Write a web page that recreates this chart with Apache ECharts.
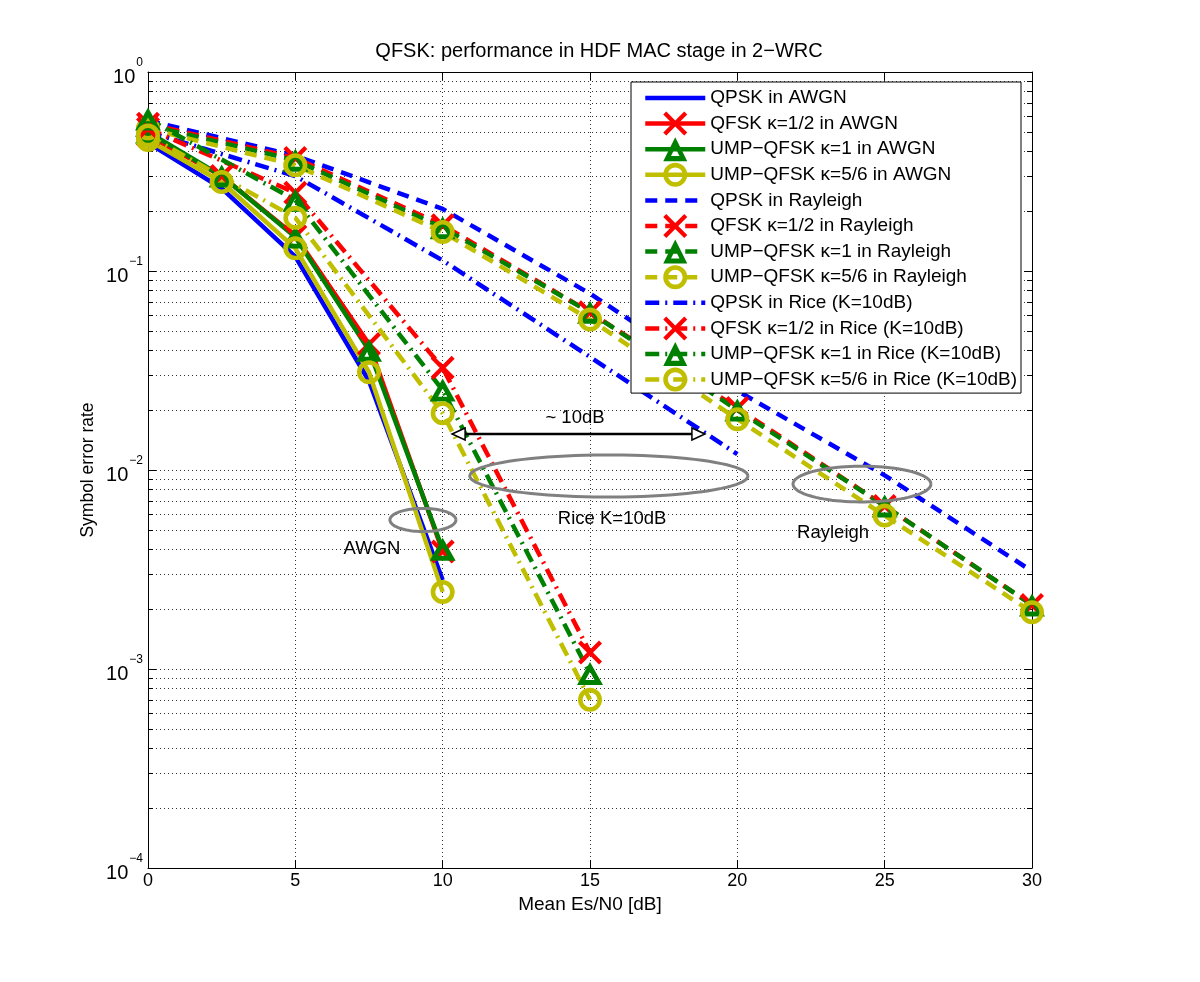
<!DOCTYPE html>
<html><head><meta charset="utf-8">
<script src="https://cdn.jsdelivr.net/npm/echarts@6/dist/echarts.min.js"></script>
<style>html,body{margin:0;padding:0;background:#fff}#c{width:1200px;height:982px}</style>
</head><body><div id="c"></div>
<script>
// ---- data ----
const snrAwgn = [0, 2.5, 5, 7.5, 10];
const qpskAwgn = [0.44, 0.26, 0.118, 0.028, 0.0028];
const qfskHalfAwgn = [0.48, 0.30, 0.15, 0.043, 0.0039];
const umpOneAwgn = [0.50, 0.30, 0.148, 0.040, 0.0040];
const umpFiveSixthAwgn = [0.455, 0.28, 0.13, 0.031, 0.00244];

const snrRayleigh = [0, 5, 10, 15, 20, 25, 30];
const qpskRayleigh = [0.57, 0.38, 0.205, 0.077, 0.025, 0.0094, 0.0031];
const qfskHalfRayleigh = [0.55, 0.37, 0.17, 0.062, 0.0205, 0.0066, 0.0021];
const umpOneRayleigh = [0.54, 0.36, 0.165, 0.062, 0.020, 0.0066, 0.0021];
const umpFiveSixthRayleigh = [0.52, 0.34, 0.157, 0.057, 0.018, 0.0059, 0.00193];

const snrRiceQpsk = [0, 5, 10, 15, 20];
const qpskRice = [0.5, 0.3, 0.113, 0.037, 0.012];
const snrRice = [0, 5, 10, 15];
const qfskHalfRice = [0.52, 0.247, 0.0326, 0.00121];
const umpOneRice = [0.58, 0.227, 0.0252, 0.00095];
const umpFiveSixthRice = [0.48, 0.185, 0.0193, 0.0007];

const seriesNames = [
  'QPSK in AWGN', 'QFSK \u03ba=1/2 in AWGN', 'UMP\u2212QFSK \u03ba=1 in AWGN', 'UMP\u2212QFSK \u03ba=5/6 in AWGN',
  'QPSK in Rayleigh', 'QFSK \u03ba=1/2 in Rayleigh', 'UMP\u2212QFSK \u03ba=1 in Rayleigh', 'UMP\u2212QFSK \u03ba=5/6 in Rayleigh',
  'QPSK in Rice (K=10dB)', 'QFSK \u03ba=1/2 in Rice (K=10dB)', 'UMP\u2212QFSK \u03ba=1 in Rice (K=10dB)', 'UMP\u2212QFSK \u03ba=5/6 in Rice (K=10dB)'
];

const yDecades = [-4, -3, -2, -1, 0];
const minorMantissas = [2, 3, 4, 5, 6, 7, 8, 9];

// annotations: [x center, y center, x radius (dB), y radius (decades)]
const ellipses = [[9.33, 0.00561, 1.12, 0.058], [15.64, 0.00933, 4.72, 0.106], [24.23, 0.0085, 2.34, 0.09]];
const annotationLabels = ['AWGN', 'Rice K=10dB', 'Rayleigh', '~ 10dB'];
const annotationPos = [[7.6, 0.0040], [15.75, 0.00567], [23.25, 0.00482], [14.49, 0.0183]];
const arrowSpan = [[10.32, 0.0152, 18.9]];

// ---- styling ----
const BLUE = '#0000ff', RED = '#ff0000', GREEN = '#008000', YEL = '#bfbf00';
const FONT = '"Liberation Sans", Arial, Helvetica, sans-serif';
const X_SYM = 'path://M2.5,0 L10,7.5 L17.5,0 L20,2.5 L12.5,10 L20,17.5 L17.5,20 L10,12.5 L2.5,20 L0,17.5 L7.5,10 L0,2.5 Z';
const TRI_SYM = 'path://M12,0 L24,21 L0,21 Z M12,9.06 L7.76,16.47 L16.24,16.47 Z';
const CIR_SYM = 'path://M12,0 A12,12 0 1,1 12,24 A12,12 0 1,1 12,0 Z M12,4.6 A7.4,7.4 0 1,0 12,19.4 A7.4,7.4 0 1,0 12,4.6 Z';
const SOLID = 'solid', DASH = [12, 8], DASHDOT = [14, 6, 2, 6];

function zip(xs, ys) { return xs.map((x, i) => [x, ys[i]]); }

const seriesDefs = [
  [snrAwgn, qpskAwgn, BLUE, 'none', SOLID],
  [snrAwgn, qfskHalfAwgn, RED, X_SYM, SOLID],
  [snrAwgn, umpOneAwgn, GREEN, TRI_SYM, SOLID],
  [snrAwgn, umpFiveSixthAwgn, YEL, CIR_SYM, SOLID],
  [snrRayleigh, qpskRayleigh, BLUE, 'none', DASH],
  [snrRayleigh, qfskHalfRayleigh, RED, X_SYM, DASH],
  [snrRayleigh, umpOneRayleigh, GREEN, TRI_SYM, DASH],
  [snrRayleigh, umpFiveSixthRayleigh, YEL, CIR_SYM, DASH],
  [snrRiceQpsk, qpskRice, BLUE, 'none', DASHDOT],
  [snrRice, qfskHalfRice, RED, X_SYM, DASHDOT],
  [snrRice, umpOneRice, GREEN, TRI_SYM, DASHDOT],
  [snrRice, umpFiveSixthRice, YEL, CIR_SYM, DASHDOT]
];

function symSize(sym) {
  if (sym === X_SYM) return [24, 24];
  if (sym === TRI_SYM) return [26, 23];
  return [24, 24];
}

const lineSeries = seriesDefs.map((d, i) => ({
  name: seriesNames[i],
  type: 'line',
  data: zip(d[0], d[1]),
  symbol: d[3],
  symbolSize: symSize(d[3]),
  showAllSymbol: true,
  color: d[2],
  itemStyle: { color: d[2] },
  lineStyle: { color: d[2], width: 4.5, type: d[4] },
  emphasis: { disabled: true },
  z: 3
}));

const legendData = seriesDefs.map((d, i) => d[3] === 'none'
  ? { name: seriesNames[i], itemStyle: { color: 'rgba(0,0,0,0)', borderColor: 'rgba(0,0,0,0)', borderWidth: 0 } }
  : { name: seriesNames[i] });

const minorGrid = [];
yDecades.slice(0, -1).forEach(e => minorMantissas.forEach(m => minorGrid.push([0, m * Math.pow(10, e)])));

function renderMinor(params, api) {
  const v = api.value(1);
  const a = api.coord([0, v]);
  const b = api.coord([30, v]);
  const y = Math.round(a[1]) + 0.5;
  return { type: 'group', children: [
    { type: 'line', shape: { x1: a[0], y1: y, x2: b[0], y2: y }, style: { stroke: '#333', lineWidth: 1, lineDash: [1, 3] } },
    { type: 'line', shape: { x1: a[0], y1: y, x2: a[0] + 5, y2: y }, style: { stroke: '#000', lineWidth: 1 } },
    { type: 'line', shape: { x1: b[0] - 5, y1: y, x2: b[0], y2: y }, style: { stroke: '#000', lineWidth: 1 } }
  ]};
}

function renderEllipse(params, api) {
  const cx = api.value(0), cy = api.value(1), rx = api.value(2), ry = api.value(3);
  const pts = [];
  for (let i = 0; i <= 90; i++) {
    const t = i / 90 * 2 * Math.PI;
    pts.push(api.coord([cx + rx * Math.cos(t), cy * Math.pow(10, ry * Math.sin(t))]));
  }
  return { type: 'polyline', shape: { points: pts }, style: { stroke: '#808080', lineWidth: 3, fill: null } };
}

function renderText(params, api) {
  const p = api.coord([api.value(0), api.value(1)]);
  return { type: 'text', x: p[0], y: p[1], style: { text: annotationLabels[params.dataIndex], fill: '#000', font: '18.5px ' + FONT, align: 'center', verticalAlign: 'middle' } };
}

function renderArrow(params, api) {
  const yv = api.value(1);
  const a = api.coord([api.value(0), yv]), b = api.coord([api.value(2), yv]);
  const L = 13, H = 6, y = Math.round(a[1]);
  return { type: 'group', children: [
    { type: 'line', shape: { x1: a[0] + L, y1: y, x2: b[0] - L, y2: y }, style: { stroke: '#000', lineWidth: 2.5 } },
    { type: 'polygon', shape: { points: [[a[0], y], [a[0] + L, y - H], [a[0] + L, y + H]] }, style: { fill: '#fff', stroke: '#000', lineWidth: 1.5 } },
    { type: 'polygon', shape: { points: [[b[0], y], [b[0] - L, y - H], [b[0] - L, y + H]] }, style: { fill: '#fff', stroke: '#000', lineWidth: 1.5 } }
  ]};
}

const chart = echarts.init(document.getElementById('c'), null, { renderer: 'canvas' });
const axisCommon = {
  axisLine: { show: true, onZero: false, lineStyle: { color: '#000', width: 1 } },
  axisTick: { show: true, inside: true, length: 8, lineStyle: { color: '#000' } }
};
chart.setOption({
  animation: false,
  backgroundColor: '#fff',
  textStyle: { fontFamily: FONT },
  title: {
    text: 'QFSK: performance in HDF MAC stage in 2\u2212WRC',
    left: 594, top: 36, textAlign: 'center',
    textStyle: { fontSize: 20, fontWeight: 'normal', color: '#000', fontFamily: FONT }
  },
  grid: { left: 148, right: 168, top: 72, bottom: 114, containLabel: false, outerBoundsMode: 'none' },
  legend: {
    data: legendData,
    orient: 'vertical',
    left: 631, top: 82,
    padding: [4, 4, 1.5, 12],
    itemWidth: 60, itemHeight: 30, itemGap: 1.6,
    backgroundColor: '#fff', borderColor: '#000', borderWidth: 1, borderRadius: 0,
    lineStyle: { width: 'inherit' },
    textStyle: { fontSize: 19, color: '#000', fontFamily: FONT },
    selectedMode: false,
    z: 10
  },
  xAxis: [
    Object.assign({}, axisCommon, {
      type: 'value', min: 0, max: 30, interval: 5, position: 'bottom',
      name: 'Mean Es/N0 [dB]', nameLocation: 'middle', nameGap: 25,
      nameTextStyle: { fontSize: 19, color: '#000', fontFamily: FONT },
      axisLabel: { fontSize: 18, color: '#000', margin: 4, fontFamily: FONT },
      splitLine: { show: true, lineStyle: { color: '#333', width: 1, type: [1, 3] } }
    }),
    Object.assign({}, axisCommon, {
      type: 'value', min: 0, max: 30, interval: 5, position: 'top',
      axisLabel: { show: false }, splitLine: { show: false }
    })
  ],
  yAxis: [
    Object.assign({}, axisCommon, {
      type: 'log', logBase: 10, min: 1e-4, max: 1, position: 'left',
      name: 'Symbol error rate', nameLocation: 'middle', nameGap: 51, nameMoveOverlap: false,
      nameTextStyle: { fontSize: 17.5, color: '#000', fontFamily: FONT },
      axisLabel: {
        margin: 5, color: '#000',
        formatter: v => {
          const e = Math.round(Math.log10(v));
          return '{b|10}{s|' + (e < 0 ? '\u2212' + (-e) : '' + e) + '}';
        },
        rich: {
          b: { fontSize: 20, fontFamily: FONT, color: '#000', lineHeight: 30, verticalAlign: 'bottom' },
          s: { fontSize: 12, fontFamily: FONT, color: '#000', lineHeight: 13, verticalAlign: 'top', padding: [0, 0, 0, 1] }
        }
      },
      splitLine: { show: true, lineStyle: { color: '#333', width: 1, type: [1, 3] } }
    }),
    Object.assign({}, axisCommon, {
      type: 'log', logBase: 10, min: 1e-4, max: 1, position: 'right',
      axisLabel: { show: false }, splitLine: { show: false }
    })
  ],
  series: [
    { type: 'custom', name: 'minorGrid', renderItem: renderMinor, data: minorGrid, silent: true, z: 1, encode: { x: 0, y: 1 } }
  ].concat(lineSeries).concat([
    { type: 'custom', name: 'ellipses', renderItem: renderEllipse, data: ellipses, silent: true, z: 5, encode: { x: 0, y: 1 } },
    { type: 'custom', name: 'texts', renderItem: renderText, data: annotationPos, silent: true, z: 5, encode: { x: 0, y: 1 } },
    { type: 'custom', name: 'arrow', renderItem: renderArrow, data: arrowSpan, silent: true, z: 5, encode: { x: 0, y: 1 } }
  ])
});
</script>
</body></html>
